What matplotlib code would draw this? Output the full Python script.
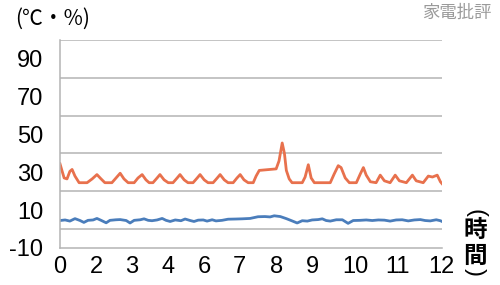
import numpy as np
import matplotlib.pyplot as plt

# time axis (0-12 hours across the plot width)
red_t = [0, 0.06, 0.13, 0.22, 0.31, 0.38, 0.47, 0.60, 0.85, 1.01, 1.16, 1.29, 1.41, 1.63,
         1.76, 1.89, 2.01, 2.14, 2.33, 2.45, 2.58, 2.70, 2.80, 2.92, 3.05, 3.14, 3.27, 3.40,
         3.55, 3.68, 3.77, 3.90, 4.02, 4.18, 4.31, 4.40, 4.53, 4.65, 4.81, 4.94, 5.03, 5.16,
         5.28, 5.44, 5.56, 5.66, 5.78, 5.91, 6.07, 6.16, 6.26, 6.79, 6.88, 6.98, 7.05, 7.11,
         7.20, 7.29, 7.61, 7.70, 7.80, 7.89, 7.99, 8.49, 8.61, 8.74, 8.83, 8.96, 9.09, 9.31,
         9.43, 9.53, 9.62, 9.75, 9.93, 10.06, 10.19, 10.37, 10.53, 10.66, 10.88, 11.07, 11.19,
         11.41, 11.57, 11.70, 11.85, 11.95, 12.0]
red_v = [34.5, 31, 27, 26.5, 30.5, 31.5, 28, 24.5, 24.5, 26.5, 28.8, 26.5, 24.5, 24.5,
         27, 29.5, 26.5, 24.5, 24.5, 27, 28.8, 26, 24.5, 24.5, 27, 28.8, 26, 24.5,
         24.5, 27, 28.8, 26, 24.5, 24.5, 27, 28.8, 26, 24.5, 24.5, 27, 28.8, 26,
         24.5, 24.5, 27, 28.8, 26, 24.5, 24.5, 28, 31, 31.8, 36, 45.5, 40, 31,
         26.5, 24.5, 24.5, 27.5, 34, 27, 24.5, 24.5, 29, 33.5, 32.5, 27, 24.5, 24.5,
         29, 32.5, 28.5, 25, 24.5, 28.5, 25.5, 24.5, 28.5, 25.5, 24.5, 28.5, 25.5,
         24.5, 28, 27.5, 28.5, 25, 24]

blue_t = [0, 0.16, 0.31, 0.47, 0.63, 0.75, 0.88, 1.04, 1.16, 1.29, 1.45, 1.57, 1.76, 1.89,
          2.08, 2.20, 2.33, 2.52, 2.64, 2.77, 2.89, 3.05, 3.21, 3.33, 3.46, 3.62, 3.80, 3.93,
          4.09, 4.21, 4.34, 4.50, 4.62, 4.78, 4.90, 5.09, 5.28, 5.53, 5.72, 5.97, 6.22, 6.44,
          6.60, 6.73, 6.92, 7.11, 7.29, 7.45, 7.61, 7.77, 7.92, 8.11, 8.24, 8.36, 8.49, 8.68,
          8.87, 9.05, 9.21, 9.43, 9.62, 9.81, 10.00, 10.19, 10.37, 10.56, 10.75, 10.94, 11.13,
          11.32, 11.47, 11.63, 11.82, 11.95, 12.0]
blue_v = [4.5, 4.8, 4.2, 5.5, 4.5, 3.5, 4.6, 4.8, 5.6, 4.6, 3.3, 4.6, 4.9, 5.0,
          4.5, 3.2, 4.6, 4.9, 5.4, 4.6, 4.4, 4.8, 5.6, 4.6, 4.0, 4.8, 4.4, 5.3,
          4.5, 4.0, 4.7, 4.8, 4.2, 4.9, 4.3, 4.6, 5.2, 5.3, 5.4, 5.6, 6.5, 6.6,
          6.4, 7.0, 6.6, 5.5, 4.3, 3.2, 4.4, 4.2, 4.8, 5.0, 5.4, 4.5, 4.2, 4.9,
          4.9, 3.0, 4.5, 4.6, 4.8, 4.5, 4.8, 4.7, 4.2, 4.8, 4.9, 4.3, 4.8,
          5.0, 4.5, 4.3, 4.9, 4.4, 4.0]

x_tick_pos = [0, 1.13, 2.26, 3.40, 4.53, 5.63, 6.79, 7.92, 9.27, 10.59, 11.98]
x_tick_labels = ['0', '2', '3', '4', '6', '7', '8', '9', '10', '11', '12']
y_ticks = [-10, 10, 30, 50, 70, 90]

plt.rcParams['font.family'] = ['Liberation Sans', 'Noto Sans CJK JP']

fig = plt.figure(figsize=(5, 2.85), dpi=100)
ax = fig.add_axes([0.12, 0.13, 0.764, 0.73])

ax.plot(red_t, red_v, color='#e8714d', lw=2.0, solid_joinstyle='round')
ax.plot(blue_t, blue_v, color='#4a7dbb', lw=2.0, solid_joinstyle='round')

ax.set_xlim(0, 12)
ax.set_ylim(-10, 100)
ax.set_yticks(np.arange(-10, 101, 10), minor=True)
ax.yaxis.grid(True, which='minor', color='#b4b4b4', lw=1.1)
ax.set_axisbelow(True)
ax.set_yticks(y_ticks)
ax.set_yticklabels([str(v) for v in y_ticks], fontsize=17)
ax.set_xticks(x_tick_pos)
ax.set_xticklabels(x_tick_labels, fontsize=17)
ax.tick_params(axis='both', which='both', length=0)
ax.tick_params(axis='y', pad=12)
ax.tick_params(axis='x', pad=6)

for side in ['top', 'right']:
    ax.spines[side].set_visible(False)
ax.spines['left'].set_color('#b4b4b4')
ax.spines['bottom'].set_color('#b4b4b4')
ax.spines['left'].set_linewidth(1.1)
ax.spines['bottom'].set_linewidth(1.1)

cjk = ['Noto Sans CJK JP', 'DejaVu Sans']
fig.text(0.03, 0.972, '(℃・%)', fontsize=15, va='top', ha='left', family=cjk)
fig.text(0.984, 0.986, '家電批評', fontsize=12.5, va='top', ha='right', color='#9a9a9a', family=cjk)

# vertical x-axis label (時間) with rotated brackets
fig.text(0.95, 0.253, '(', fontsize=17, va='center', ha='center', rotation=-90)
fig.text(0.95, 0.193, '時', fontsize=17, va='center', ha='center', family=cjk, weight='bold')
fig.text(0.95, 0.102, '間', fontsize=17, va='center', ha='center', family=cjk, weight='bold')
fig.text(0.95, 0.046, ')', fontsize=17, va='center', ha='center', rotation=-90)

fig.savefig('out.png', dpi=100)
